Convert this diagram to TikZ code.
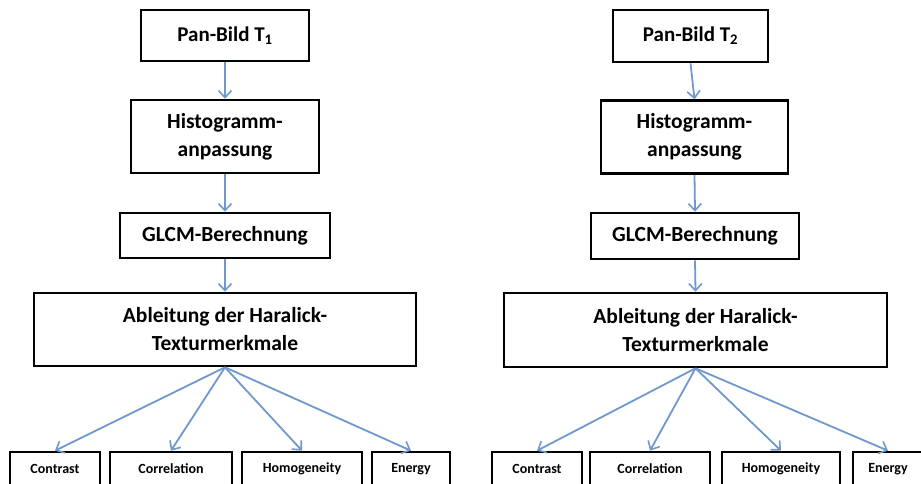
\documentclass[tikz,border=0pt]{standalone}
\usepackage{fontspec}
\setmainfont{Carlito}
\usetikzlibrary{arrows.meta}
\definecolor{arr}{RGB}{110,152,206}
\begin{document}
\begin{tikzpicture}[x=1pt,y=-1pt,
  box/.style={draw=black,line width=2.6pt,inner sep=0pt,align=center},
  big/.style={font=\bfseries\fontsize{21}{24}\selectfont},
  mid/.style={font=\bfseries\fontsize{21.5}{28}\selectfont},
  small/.style={font=\bfseries\fontsize{14}{16}\selectfont},
  conn/.style={draw=arr,line width=1.8pt,-{Straight Barb[length=7pt,width=13pt,line width=1.6pt]}}]
\useasboundingbox[fill=white] (0,0) rectangle (921,484);
% left column
\node[box,big,minimum width=168pt,minimum height=51pt] (p1) at (225,35.5) {Pan-Bild T\textsubscript{1}};
\node[box,mid,minimum width=188pt,minimum height=73pt] (h1) at (225,136.5) {Histogramm-\\anpassung};
\node[box,mid,minimum width=210pt,minimum height=45pt] (g1) at (225,235.5) {GLCM-Berechnung};
\node[box,mid,minimum width=382pt,minimum height=73pt] (a1) at (225,329.5) {Ableitung der Haralick-\\Texturmerkmale};
\node[box,small,minimum width=90pt,minimum height=34pt] (c1) at (55,469) {Contrast};
\node[box,small,minimum width=122pt,minimum height=34pt] (r1) at (171,469) {Correlation};
\node[box,small,minimum width=120pt,minimum height=34pt] (m1) at (302,469) {Homogeneity};
\node[box,small,minimum width=78pt,minimum height=34pt] (e1) at (411,469) {Energy};
% right column
\node[box,big,minimum width=155pt,minimum height=52pt] (p2) at (690.5,36) {Pan-Bild T\textsubscript{2}};
\node[box,mid,minimum width=187pt,minimum height=73pt] (h2) at (694.5,137) {Histogramm-\\anpassung};
\node[box,mid,minimum width=208pt,minimum height=46pt] (g2) at (695,236) {GLCM-Berechnung};
\node[box,mid,minimum width=383pt,minimum height=74pt] (a2) at (695.5,330) {Ableitung der Haralick-\\Texturmerkmale};
\node[box,small,minimum width=90pt,minimum height=34pt] (c2) at (537,469) {Contrast};
\node[box,small,minimum width=120pt,minimum height=34pt] (r2) at (650,469) {Correlation};
\node[box,small,minimum width=118pt,minimum height=34pt] (m2) at (781,469) {Homogeneity};
\node[box,small,minimum width=70pt,minimum height=34pt] (e2) at (888,469) {Energy};
% connectors
\foreach \s in {1,2}{
  \draw[conn] (p\s.south) -- (h\s.north);
  \draw[conn] (h\s.south) -- (g\s.north);
  \draw[conn] (g\s.south) -- (a\s.north);
  \draw[conn] (a\s.south) -- (c\s.north);
  \draw[conn] (a\s.south) -- (r\s.north);
  \draw[conn] (a\s.south) -- (m\s.north);
  \draw[conn] (a\s.south) -- (e\s.north);
}
\end{tikzpicture}
\end{document}
